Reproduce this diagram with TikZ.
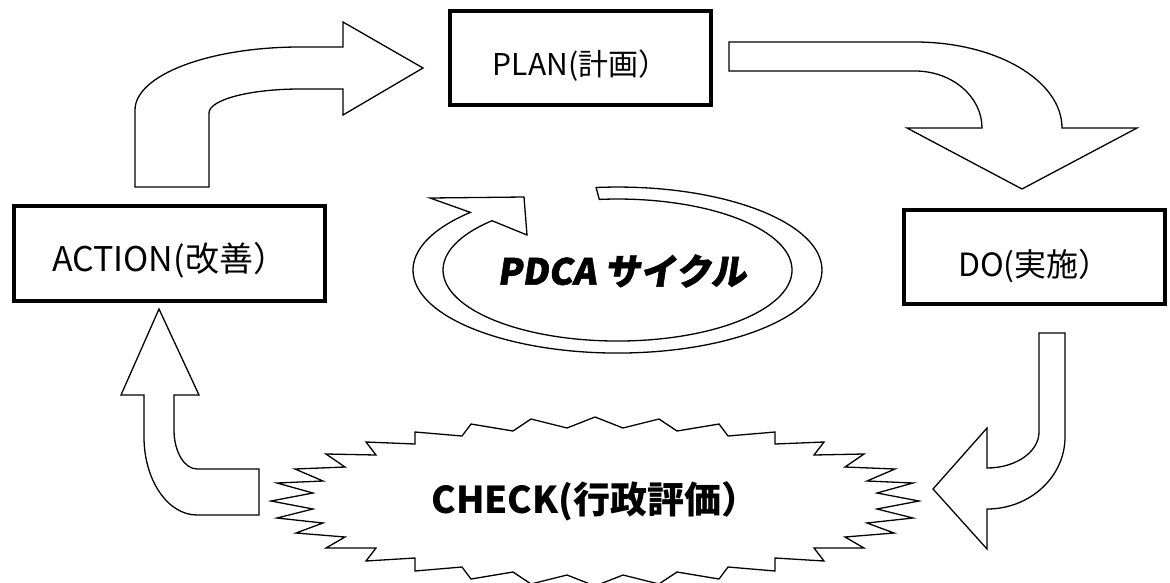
\documentclass[tikz,border=0pt]{standalone}
\usepackage{fontspec}
\setmainfont{Noto Sans CJK JP}
\newfontfamily\popfont{Noto Sans CJK JP}[FakeSlant=0.15, BoldFeatures={FakeBold=1.5}]
\usetikzlibrary{positioning}

\begin{document}
\begin{tikzpicture}[x=1pt, y=-1pt,
    etapa/.style={draw, line width=3.5pt, minimum width=261pt, minimum height=94pt, inner sep=0pt, text height=41pt, text depth=6pt, font=\fontsize{30}{30}\selectfont},
    flecha/.style={draw, line width=1.3pt, fill=white, line join=miter}]
        \useasboundingbox (0,0) rectangle (1170,582);

        % Etapas del ciclo
        \node[etapa] (plan) at (580.5,58) {PLAN(計画）};
        \node[etapa, minimum width=311pt, minimum height=95pt, font=\fontsize{34}{34}\selectfont] (action) at (169.5,253.5) {ACTION(改善）};
        \node[etapa, text height=44pt, font=\fontsize{32}{32}\selectfont] (do) at (1034.5,257) {DO(実施）};

        % Flecha ACTION -> PLAN
        \draw[flecha] (135,187) -- (135,110) arc[start angle=180, end angle=270, x radius=165, y radius=63]
            -- (343,47) -- (343,22) -- (423,68) -- (343,115) -- (343,89) -- (300,89)
            arc[start angle=270, end angle=180, x radius=91, y radius=24] -- (209,187) -- cycle;

        % Flecha PLAN -> DO
        \draw[flecha] (729,42) -- (915,42) arc[start angle=270, end angle=360, x radius=147, y radius=86]
            -- (1137,128) -- (1022,189) -- (907,128) -- (982,128)
            arc[start angle=0, end angle=-90, x radius=67, y radius=57] -- (729,71) -- cycle;

        % Flecha DO -> CHECK
        \draw[flecha] (1039,333) -- (1065,333) -- (1065,437) arc[start angle=0, end angle=90, x radius=78, y radius=72]
            -- (987,549) -- (933,489) -- (987,428) -- (987,468)
            arc[start angle=90, end angle=0, x radius=52, y radius=36] -- cycle;

        % Flecha CHECK -> ACTION
        \draw[flecha] (259,515) -- (197,515) arc[start angle=90, end angle=180, x radius=53, y radius=78]
            -- (144,395) -- (121,395) -- (159,309) -- (199,395) -- (174,395) -- (174,430)
            arc[start angle=180, end angle=90, x radius=23, y radius=39] -- (259,469) -- cycle;

        % Estallido de CHECK
        \draw[flecha] (595,417) -- (623,428) -- (659,419) -- (677,431) -- (719,424) -- (728,436)
            -- (775,432) -- (775,444) -- (824,442) -- (814,455) -- (864,454) -- (845,467)
            -- (895,469) -- (867,481) -- (913,483) -- (877,493) -- (919,501) -- (877,509)
            -- (913,518) -- (867,523) -- (894,533) -- (845,537) -- (864,548) -- (814,548)
            -- (824,561) -- (775,558) -- (775,571) -- (728,567) -- (719,579) -- (677,572)
            -- (659,584) -- (623,575) -- (595,586) -- (567,575) -- (531,584) -- (513,572)
            -- (471,579) -- (462,567) -- (415,571) -- (415,558) -- (366,561) -- (376,548)
            -- (326,548) -- (345,537) -- (296,533) -- (323,523) -- (277,518) -- (313,509)
            -- (271,501) -- (313,493) -- (277,483) -- (323,481) -- (295,469) -- (345,467)
            -- (326,454) -- (376,455) -- (366,442) -- (415,444) -- (415,432) -- (462,436)
            -- (471,424) -- (513,431) -- (531,419) -- (567,428) -- cycle;
        \node[font=\bfseries\fontsize{37}{37}\selectfont] (check) at (595,501) {CHECK(行政評価）};

        % Flecha circular del ciclo
        \draw[flecha] (596.1,187.5) arc[start angle=-96, end angle=224, x radius=204.5, y radius=83]
            -- (430,198) -- (524,197) -- (527,235) -- (492,220.7)
            arc[start angle=224, end angle=-96, x radius=174.5, y radius=71] -- cycle;
        \node[font=\popfont\bfseries\fontsize{36}{36}\selectfont] (ciclo) at (622,271) {PDCA サイクル};
\end{tikzpicture}
\end{document}
